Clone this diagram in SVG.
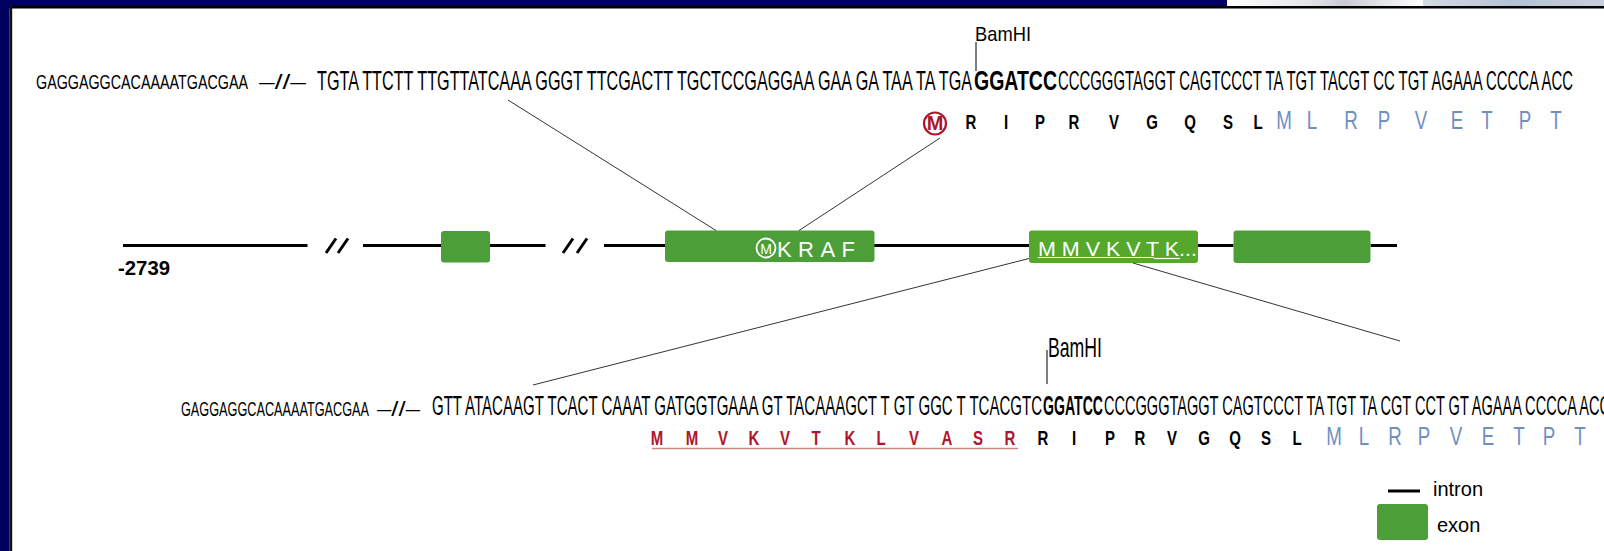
<svg xmlns="http://www.w3.org/2000/svg" width="1604" height="551" viewBox="0 0 1604 551">
<defs>
<linearGradient id="photo1" x1="0" y1="0" x2="1" y2="0">
<stop offset="0" stop-color="#ffffff"/><stop offset="0.4" stop-color="#e4e6ea"/><stop offset="0.6" stop-color="#c8ccd2"/><stop offset="1" stop-color="#ffffff"/>
</linearGradient>
<linearGradient id="photo2" x1="0" y1="0" x2="1" y2="0">
<stop offset="0" stop-color="#d4dae4"/><stop offset="0.5" stop-color="#b4c2d6"/><stop offset="1" stop-color="#c6cedb"/>
</linearGradient>
</defs>
<style>
.seq{font-family:"Liberation Sans",Arial,sans-serif;fill:#000}
.small{font-size:21px}
.big{font-size:27px}
.bold{font-weight:bold}
.aa{font-family:"Liberation Sans",Arial,sans-serif;font-weight:bold;font-size:20px;text-anchor:middle}
.blue{font-family:"Liberation Sans",Arial,sans-serif;font-size:25px;fill:#6f8fc3;text-anchor:middle}
.red{fill:#b0152b}
.intron{stroke:#000;stroke-width:3;fill:none}
.exon{fill:#4c9f38}
.conn{stroke:#333;stroke-width:1;fill:none}
.lbl{font-family:"Liberation Sans",Arial,sans-serif;fill:#000}
.wt{font-family:"Liberation Sans",Arial,sans-serif;fill:#fff}
</style>
<rect x="0" y="0" width="1604" height="551" fill="#fff"/>
<g id="frame">
<rect x="0" y="0" width="1227" height="6.5" fill="#000060"/>
<rect x="1227" y="0" width="196" height="6.5" fill="url(#photo1)"/>
<rect x="1423" y="0" width="181" height="6.5" fill="url(#photo2)"/>
<rect x="0" y="6" width="1604" height="2.5" fill="#000"/>
<rect x="0" y="0" width="9.6" height="551" fill="#000060"/>
<rect x="9.6" y="6" width="2.6" height="545" fill="#111"/>
</g>

<g id="top-sequence">
<text class="seq small" x="36" y="89" textLength="212" lengthAdjust="spacingAndGlyphs">GAGGAGGCACAAAATGACGAA</text>
<text class="seq small" x="259" y="89" textLength="47" lengthAdjust="spacingAndGlyphs">–//–</text>
<text class="seq big" x="317" y="90" textLength="655" lengthAdjust="spacingAndGlyphs">TGTA TTCTT TTGTTATCAAA GGGT TTCGACTT TGCTCCGAGGAA GAA GA TAA TA TGA</text>
<text class="seq big bold" x="974" y="90" textLength="83" lengthAdjust="spacingAndGlyphs">GGATCC</text>
<text class="seq big" x="1058" y="90" textLength="515" lengthAdjust="spacingAndGlyphs">CCCGGGTAGGT CAGTCCCT TA TGT TACGT CC TGT AGAAA CCCCA ACC</text>
</g>
<g id="top-bamhi">
<text class="lbl" x="975" y="40.5" font-size="21" textLength="56" lengthAdjust="spacingAndGlyphs">BamHI</text>
<line x1="976" y1="42" x2="976" y2="71" stroke="#000" stroke-width="1"/>
</g>
<g id="top-protein">
<circle cx="935" cy="123.5" r="11" fill="none" stroke="#b0152b" stroke-width="2.2"/>
<text class="aa red" x="935" y="130" font-size="17">M</text>
<g transform="scale(0.75,1)">
<text class="aa" y="129.5" x="1294.7 1341.3 1386.7 1432 1485.3 1536 1586.7 1637.3 1677.3">RIPRVGQSL</text>
<text class="blue" y="129.5" x="1712 1749.3 1801.3 1845.3 1894.7 1942.7 1982.7 2033.3 2074.7">MLRPVETPT</text>
</g>
</g>

<g id="gene">
<line class="intron" x1="123" y1="245.5" x2="307.5" y2="245.5"/>
<line class="intron" x1="326" y1="253" x2="336" y2="238.5"/>
<line class="intron" x1="338" y1="253" x2="348" y2="238.5"/>
<line class="intron" x1="363" y1="245.5" x2="441" y2="245.5"/>
<line class="intron" x1="490" y1="245.5" x2="545.5" y2="245.5"/>
<line class="intron" x1="563" y1="253" x2="573" y2="238.5"/>
<line class="intron" x1="577" y1="253" x2="587" y2="238.5"/>
<line class="intron" x1="604" y1="245.5" x2="665" y2="245.5"/>
<line class="intron" x1="874" y1="245.5" x2="1029" y2="245.5"/>
<line class="intron" x1="1198" y1="245.5" x2="1233.5" y2="245.5"/>
<line class="intron" x1="1370.5" y1="245.5" x2="1397" y2="245.5"/>
<text class="lbl" x="118" y="275" font-size="20" font-weight="bold" textLength="52" lengthAdjust="spacingAndGlyphs">-2739</text>
</g>
<g id="exon1"><rect class="exon" x="441" y="231" width="49" height="31.5" rx="3"/></g>
<g id="exon2">
<rect class="exon" x="665" y="230.5" width="209.5" height="31.5" rx="3"/>
<circle cx="766" cy="248" r="9.5" fill="none" stroke="#fff" stroke-width="1.8"/>
<text class="wt" x="766" y="253.5" font-size="14" text-anchor="middle">M</text>
<text class="wt" x="777" y="257" font-size="22" textLength="78" lengthAdjust="spacing">KRAF</text>
</g>
<g id="exon3">
<rect x="1029" y="230.5" width="169" height="32.5" rx="3" fill="#56a82c"/>
<text class="wt" x="1038" y="255.5" font-size="21" textLength="159" lengthAdjust="spacingAndGlyphs">M M V K V T K...</text>
<line x1="1038" y1="257.5" x2="1154" y2="257.5" stroke="#fff" stroke-width="1.2"/>
<line x1="1154" y1="258.5" x2="1180" y2="258.5" stroke="#fff" stroke-width="1.2"/>
</g>
<g id="exon4"><rect class="exon" x="1233.5" y="230.5" width="137" height="32.5" rx="3"/></g>

<g id="connectors">
<line class="conn" x1="508" y1="100" x2="716" y2="230.5"/>
<line class="conn" x1="940" y1="138" x2="799" y2="230.5"/>
<line class="conn" x1="1029" y1="258.5" x2="533" y2="385"/>
<line class="conn" x1="1133" y1="263" x2="1400" y2="341"/>
</g>

<g id="bottom-sequence">
<text class="seq small" x="181" y="415.5" textLength="188" lengthAdjust="spacingAndGlyphs">GAGGAGGCACAAAATGACGAA</text>
<text class="seq small" x="377" y="415.5" textLength="43" lengthAdjust="spacingAndGlyphs">–//–</text>
<text class="seq big" x="432" y="415" textLength="610" lengthAdjust="spacingAndGlyphs">GTT ATACAAGT TCACT CAAAT GATGGTGAAA GT TACAAAGCT T GT GGC T TCACGTC</text>
<text class="seq big bold" x="1043" y="415" textLength="60" lengthAdjust="spacingAndGlyphs">GGATCC</text>
<text class="seq big" x="1104" y="415" textLength="506" lengthAdjust="spacingAndGlyphs">CCCGGGTAGGT CAGTCCCT TA TGT TA CGT CCT GT AGAAA CCCCA ACC</text>
</g>
<g id="bottom-bamhi">
<text class="lbl" x="1048" y="357" font-size="28" textLength="54" lengthAdjust="spacingAndGlyphs">BamHI</text>
<line x1="1047" y1="350" x2="1047" y2="384" stroke="#000" stroke-width="1"/>
</g>
<g id="bottom-protein">
<g transform="scale(0.75,1)">
<text class="aa red" y="445.5" x="876 922.7 964 1005.3 1046.7 1088 1133.3 1174.7 1218.7 1262.7 1304 1346.7">MMVKVTKLVASR</text>
<text class="aa" y="445.5" x="1390.7 1432 1480 1520 1562.7 1605.3 1646.7 1688 1729.3">RIPRVGQSL</text>
<text class="blue" y="445.5" x="1778.7 1818.7 1860 1898.7 1941.3 1984 2025.3 2065.3 2106.7">MLRPVETPT</text>
</g>
<line x1="652" y1="448.5" x2="1018" y2="448.5" stroke="#d08480" stroke-width="1.6"/>
</g>

<g id="legend">
<line class="intron" x1="1388" y1="491" x2="1420" y2="491"/>
<text class="lbl" x="1433" y="496" font-size="20">intron</text>
<rect class="exon" x="1377" y="504" width="51" height="36" rx="3"/>
<text class="lbl" x="1437" y="532" font-size="20">exon</text>
</g>
</svg>
